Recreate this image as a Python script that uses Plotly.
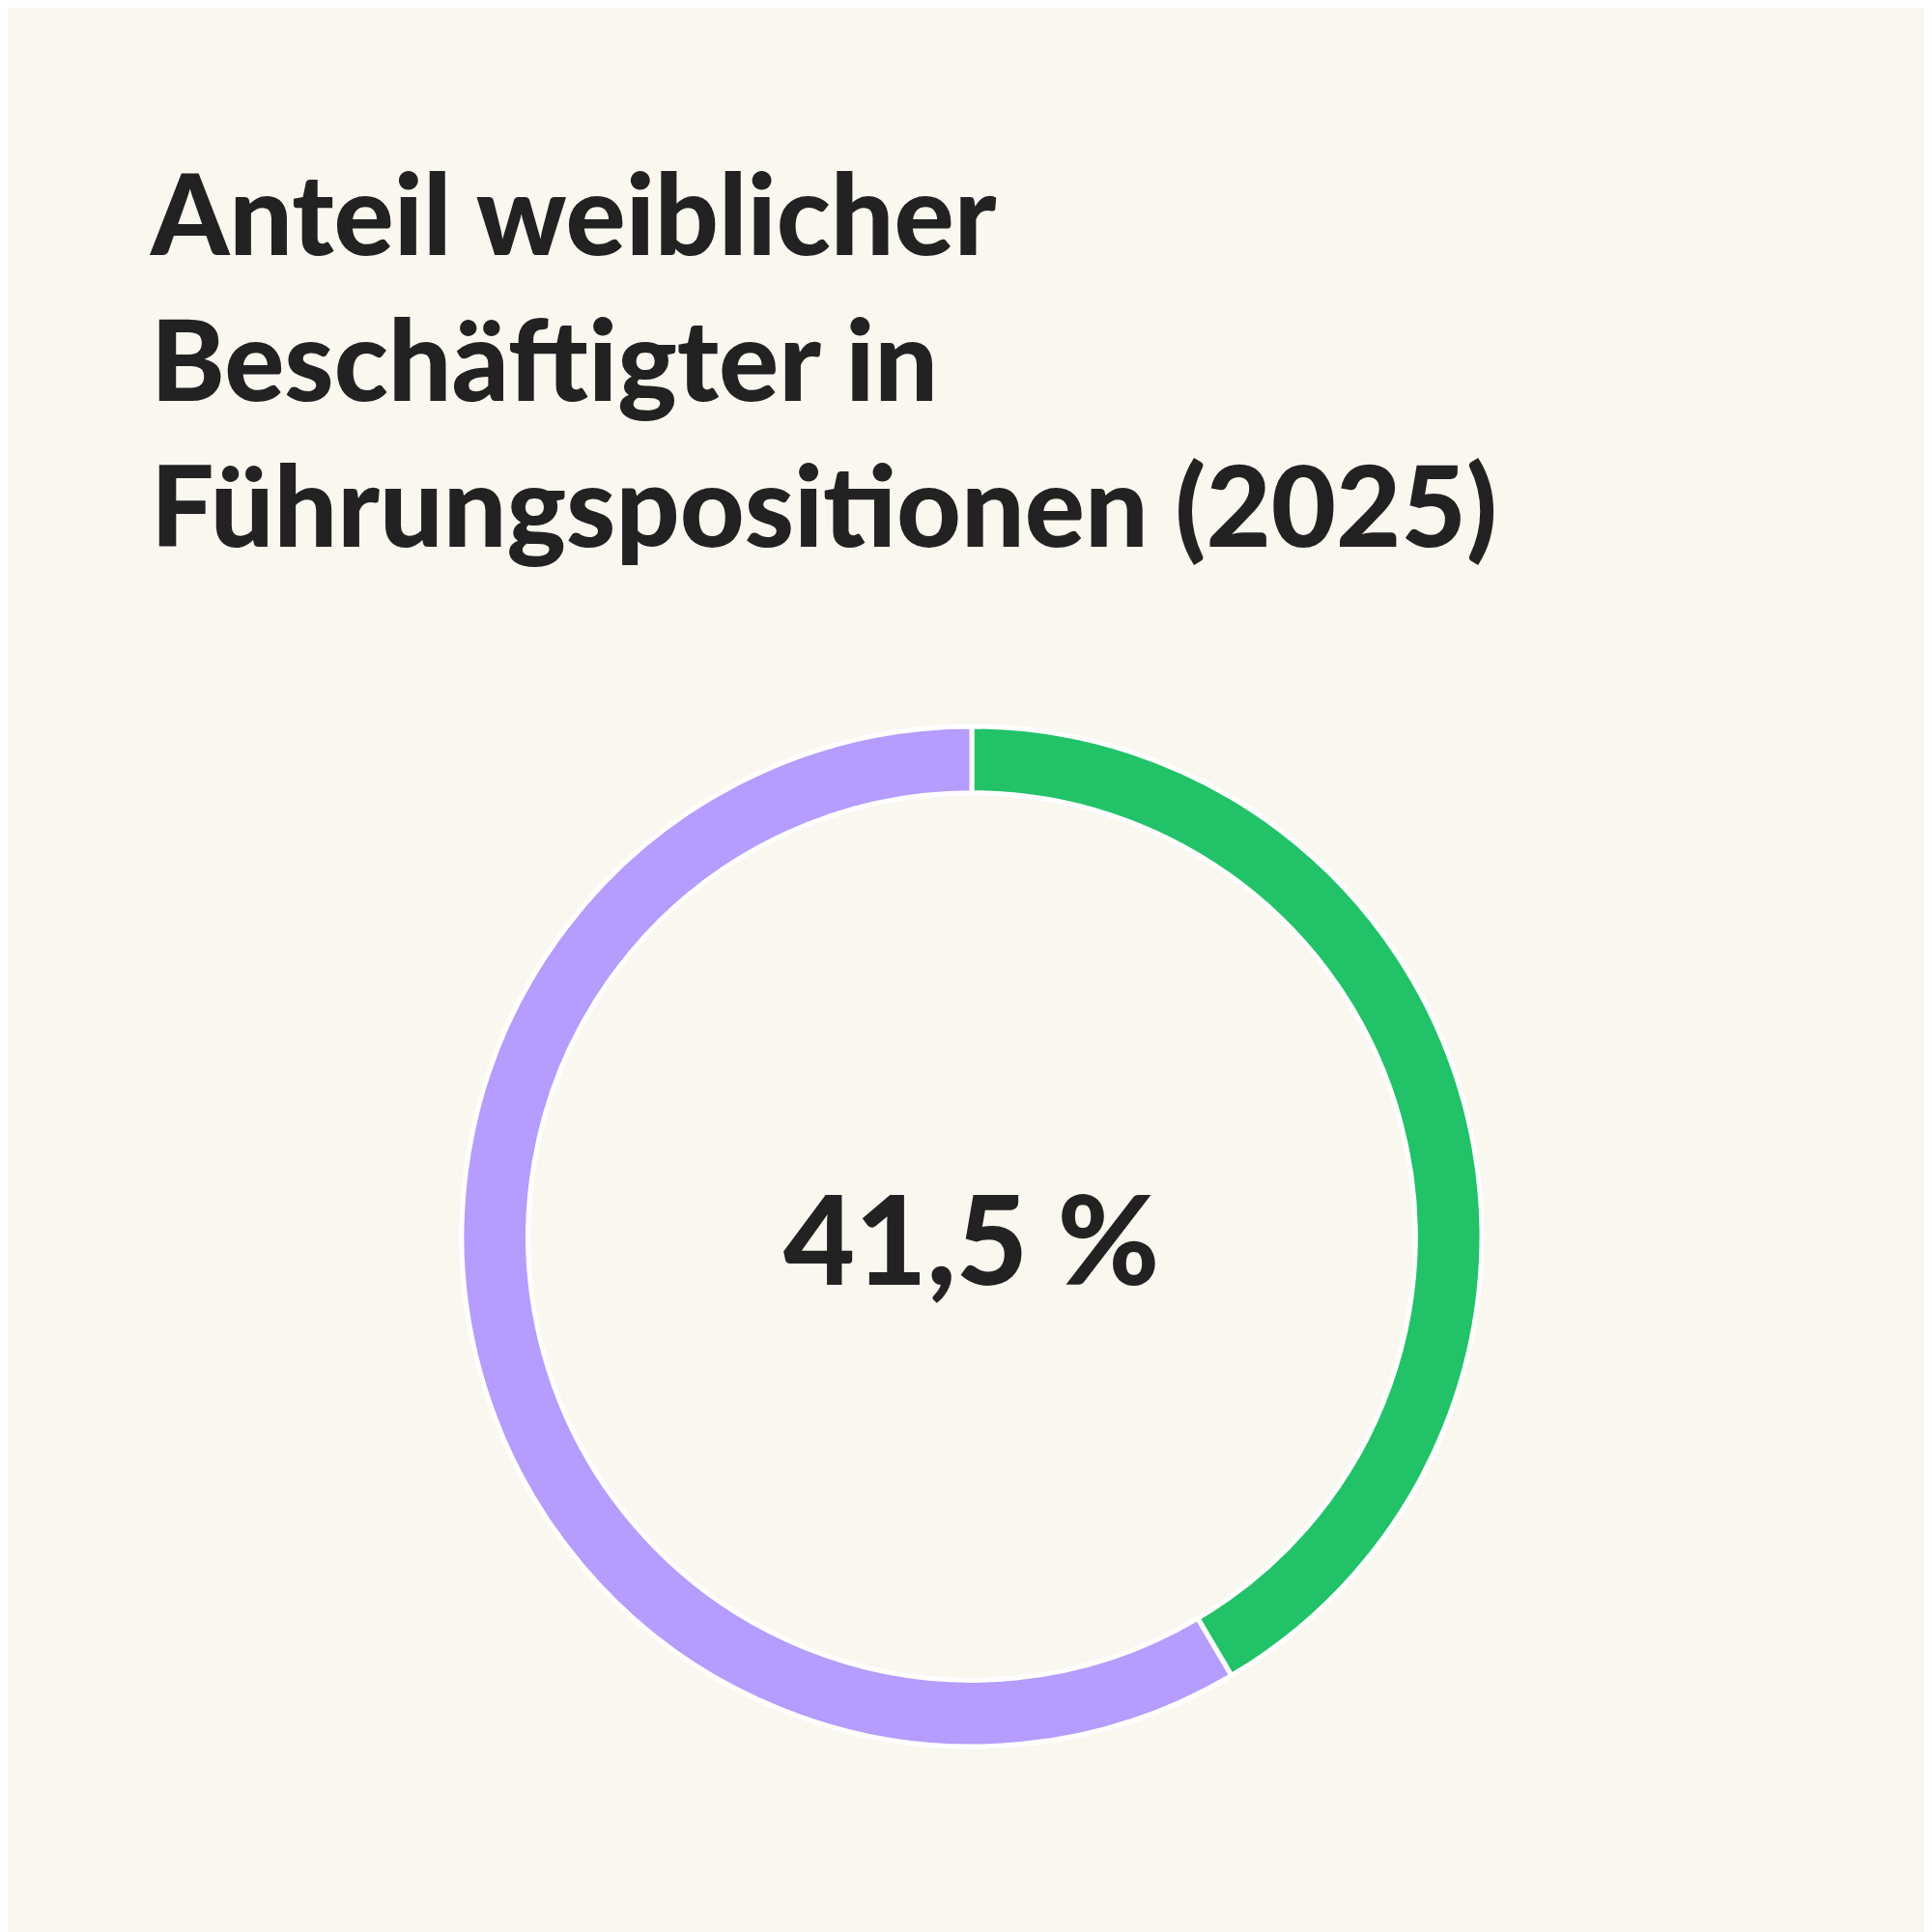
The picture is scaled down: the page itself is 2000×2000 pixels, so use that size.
import plotly.graph_objects as go

labels = ["Frauen", "Männer"]
values = [41.5, 58.5]
colors = ["#22c268", "#b59cff"]
line_colors = ["#ffffff", "#ffffff"]
title_lines = ["Anteil weiblicher", "Beschäftigter in", "Führungspositionen (2025)"]
center_text = "41,5 %"

fig = go.Figure(go.Pie(
    labels=labels, values=values, hole=0.87, sort=False, direction="clockwise",
    rotation=0, textinfo="none", hoverinfo="label+percent",
    marker=dict(colors=colors, line=dict(color=line_colors, width=5)),
    domain=dict(x=[0.235, 0.763], y=[0.1, 0.628]), showlegend=False,
))
fig.add_annotation(text="<br>".join(title_lines), x=0.072, y=0.93, xref="paper", yref="paper",
                   xanchor="left", yanchor="top", align="left", showarrow=False,
                   font=dict(family="Lato", size=116, color="#222222", weight=900))
fig.add_annotation(text=center_text, x=0.4985, y=0.364, xref="paper", yref="paper",
                   showarrow=False, font=dict(family="Lato", size=128, color="#222222", weight=900))
fig.update_layout(width=2000, height=2000, margin=dict(l=0, r=0, t=0, b=0),
                  paper_bgcolor="#f9f7f0", plot_bgcolor="#f9f7f0")
fig.write_html("out.html")
